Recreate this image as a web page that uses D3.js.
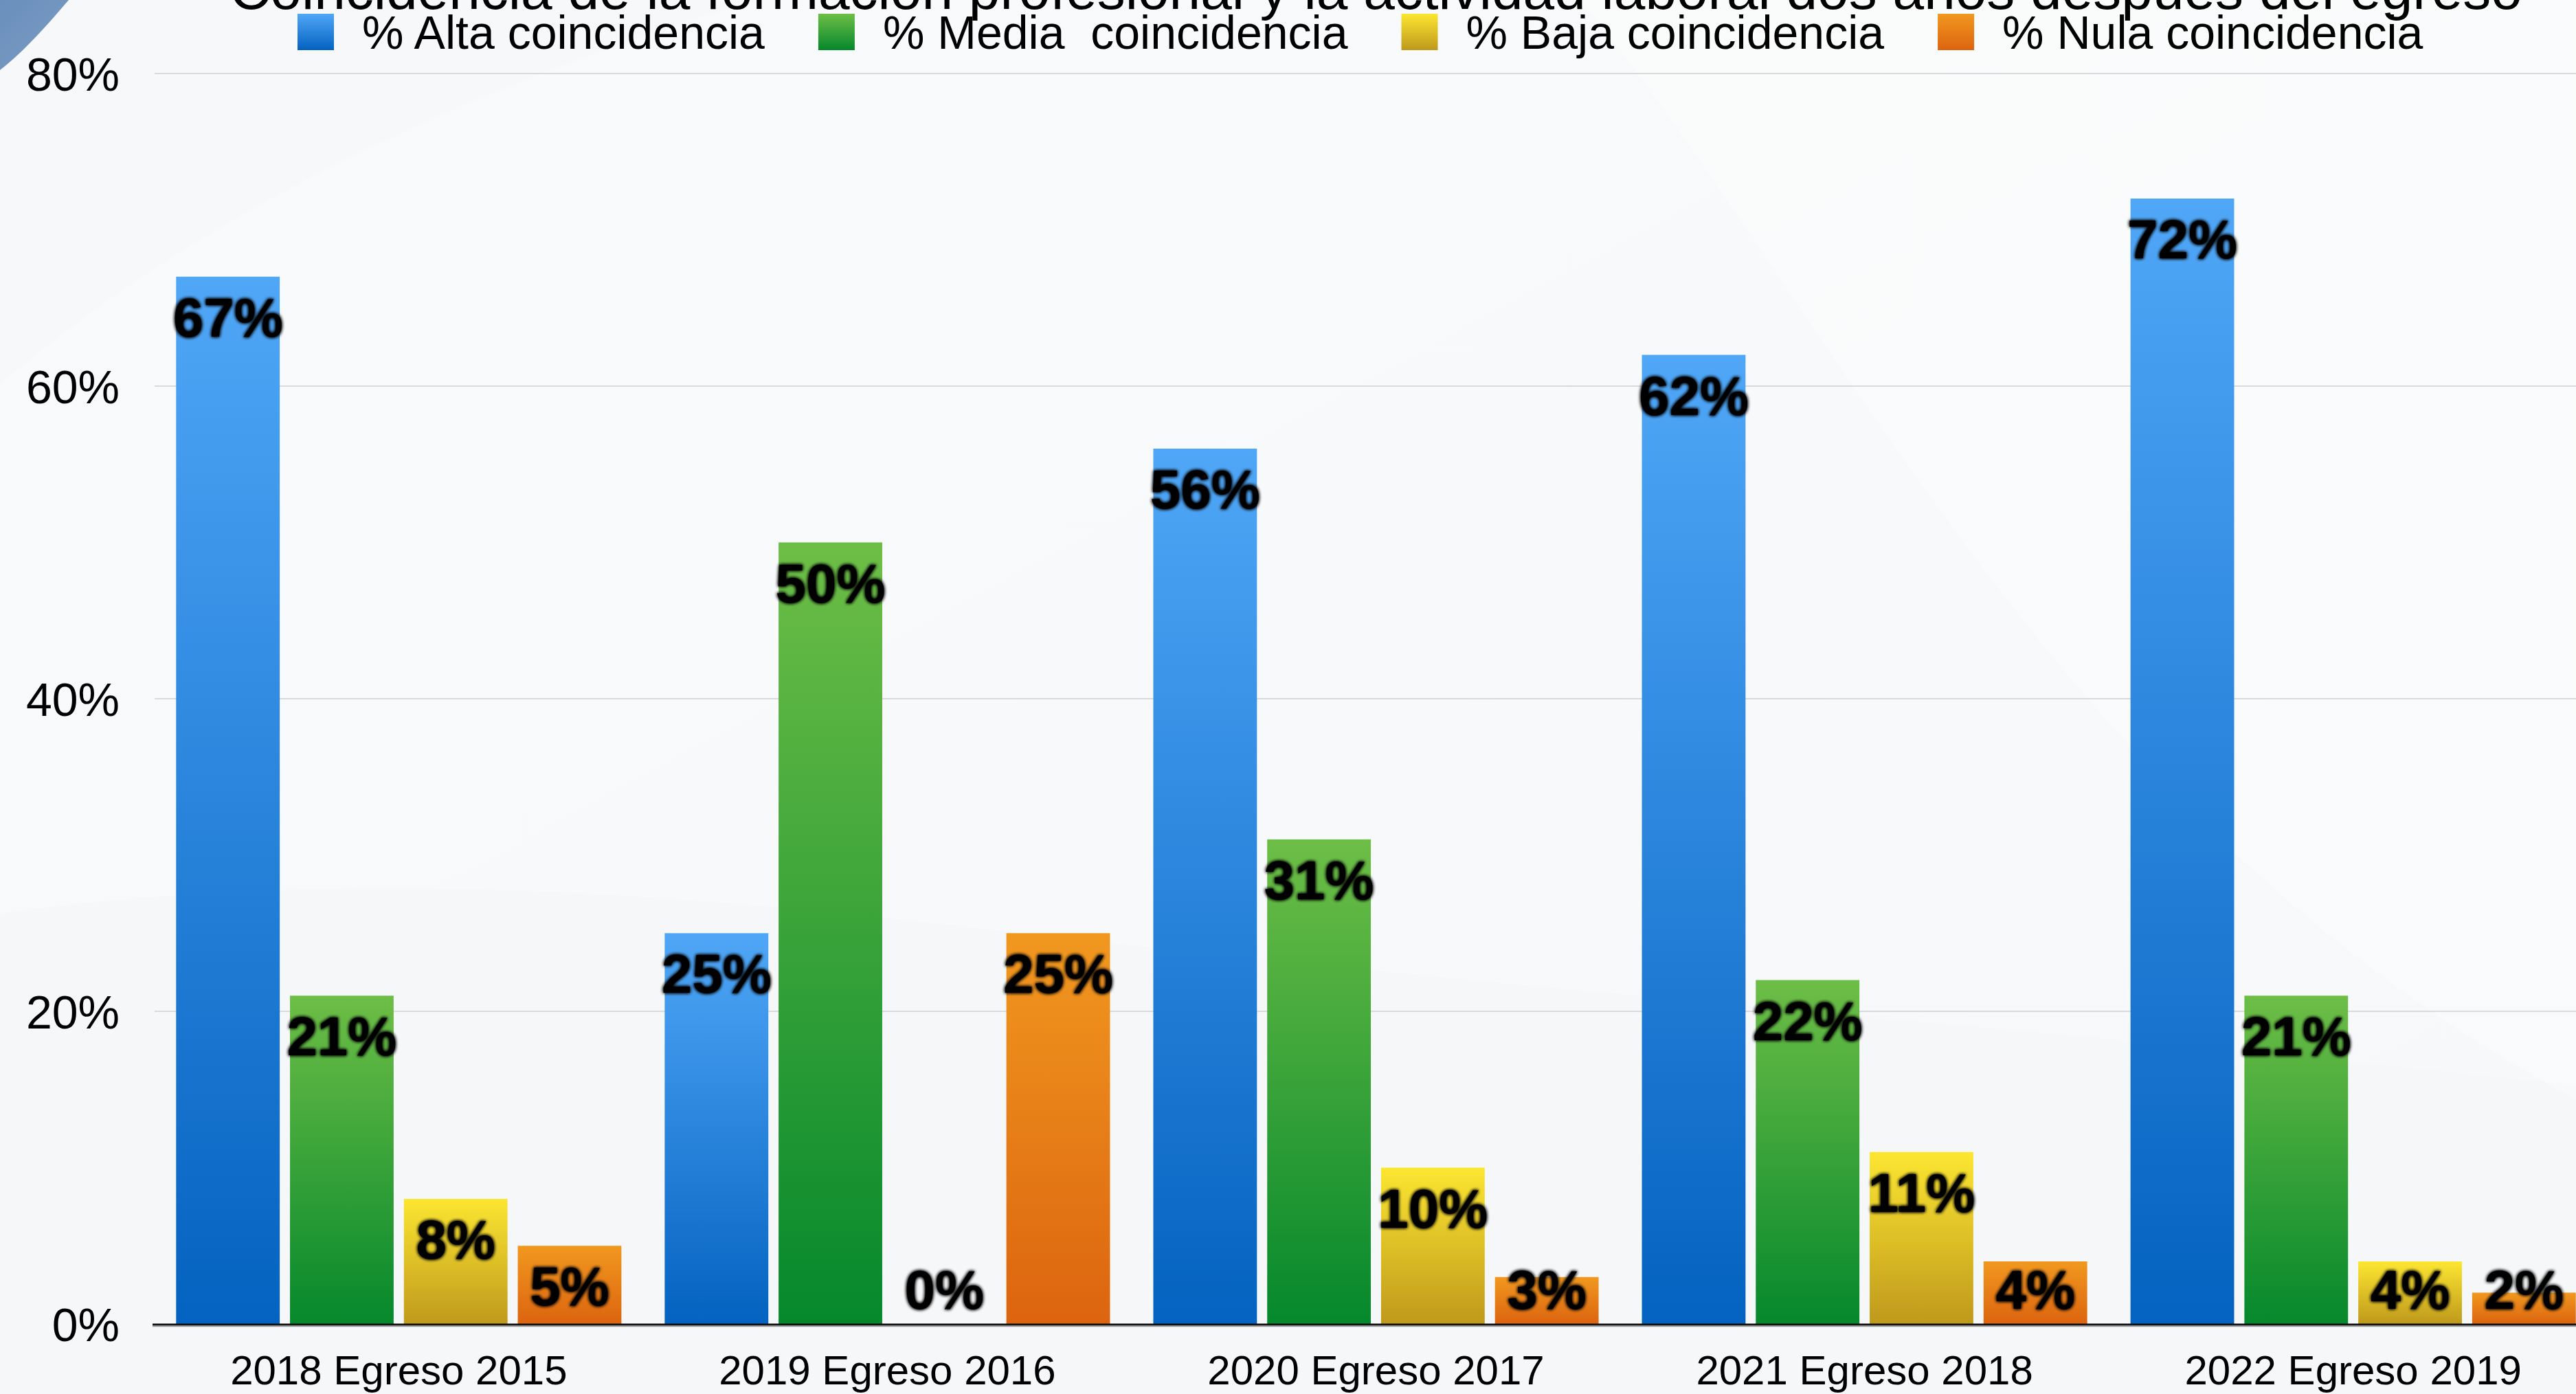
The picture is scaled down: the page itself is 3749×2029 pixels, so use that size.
<!DOCTYPE html>
<html><head><meta charset="utf-8">
<script src="https://cdn.jsdelivr.net/npm/d3@7"></script>
<style>
html,body{margin:0;padding:0;background:#f8f9fa;overflow:hidden}
text{font-family:"Liberation Sans",Arial,Helvetica,sans-serif}
</style></head>
<body>
<svg id="chart" width="3749" height="2029"></svg>
<script>
const title = "Coincidencia de la formación profesional y la actividad laboral dos años después del egreso";
const categories = ["2018 Egreso 2015","2019 Egreso 2016","2020 Egreso 2017","2021 Egreso 2018","2022 Egreso 2019"];
const seriesNames = ["% Alta coincidencia","% Media  coincidencia","% Baja coincidencia","% Nula coincidencia"];
const alta  = [67, 25, 56, 62, 72];
const media = [21, 50, 31, 22, 21];
const baja  = [8, 0, 10, 11, 4];
const nula  = [5, 25, 3, 4, 2];
const yTicks = [0, 20, 40, 60, 80];
const seriesValues = [alta, media, baja, nula];
const colorsTop = ["#50a7f7","#6dbe46","#fce631","#f1981f"];
const colorsBottom = ["#0462c0","#05882c","#bf991c","#dc640f"];

const W = 3749, H = 2029;
const svg = d3.select("#chart");
const defs = svg.append("defs");

// background
const bg = defs.append("linearGradient").attr("id","bg").attr("x1",0).attr("y1",0).attr("x2",1).attr("y2",1);
bg.append("stop").attr("offset",0).attr("stop-color","#f9fafb");
bg.append("stop").attr("offset",1).attr("stop-color","#f7f8fa");
svg.append("rect").attr("width",W).attr("height",H).attr("fill","url(#bg)");
// faint swooshes
svg.append("path").attr("d","M0,1330 C500,1260 1000,1300 1500,1360 C2300,1450 3000,1500 3749,1580 L3749,2029 L0,2029 Z")
  .attr("fill","#f3f5f7").attr("opacity",0.5);
svg.append("path").attr("d","M0,560 C300,300 700,120 1100,0 L0,0 Z").attr("fill","#f5f6f8").attr("opacity",0.6);
svg.append("path").attr("d","M2300,0 C2700,500 3000,1200 3749,1600 L3749,0 Z").attr("fill","#ffffff").attr("opacity",0.3);
// corner
const cg = defs.append("linearGradient").attr("id","corner").attr("x1",0).attr("y1",0).attr("x2",1).attr("y2",1);
cg.append("stop").attr("offset",0).attr("stop-color","#6a8fbc");
cg.append("stop").attr("offset",1).attr("stop-color","#7c9dc5");
svg.append("path").attr("d","M0,0 L100,0 C70,35 35,75 0,102 Z").attr("fill","url(#corner)");

// gradients per series
colorsTop.forEach((c,i)=>{
  const g = defs.append("linearGradient").attr("id","g"+i).attr("x1",0).attr("y1",0).attr("x2",0).attr("y2",1);
  g.append("stop").attr("offset",0).attr("stop-color",c);
  g.append("stop").attr("offset",1).attr("stop-color",colorsBottom[i]);
});
// label shadow
const f = defs.append("filter").attr("id","glow").attr("x","-20%").attr("y","-20%").attr("width","140%").attr("height","140%");
f.append("feGaussianBlur").attr("in","SourceAlpha").attr("stdDeviation",2.5).attr("result","b");
const fm = f.append("feMerge");
fm.append("feMergeNode").attr("in","b");
fm.append("feMergeNode").attr("in","b");
fm.append("feMergeNode").attr("in","SourceGraphic");

const plotLeft = 225, plotRight = 3780, yTop = 107, yBottom = 1927;
const x0 = d3.scaleBand().domain(categories).range([plotLeft, plotRight]).paddingInner(0.0886).paddingOuter(0.044);
const x1 = d3.scaleBand().domain(d3.range(4)).range([0, x0.bandwidth()]).paddingInner(0.09);
const y = d3.scaleLinear().domain([0, 80]).range([yBottom, yTop]);

// grid
svg.append("g").selectAll("line").data(yTicks.filter(t=>t>0)).join("line")
  .attr("x1",plotLeft).attr("x2",W).attr("y1",d=>y(d)).attr("y2",d=>y(d))
  .attr("stroke","#d9dadc").attr("stroke-width",2);

// y axis labels
const yAxis = d3.axisLeft(y).tickValues(yTicks).tickFormat(d=>d+"%").tickSize(0).tickPadding(0);
const ya = svg.append("g").attr("transform","translate(174,0)").call(yAxis);
ya.select(".domain").remove();
ya.selectAll("text").attr("font-size",68).attr("fill","#000").attr("font-family","Liberation Sans, Arial, sans-serif").attr("dy","0.36em");

// bars
const groups = svg.append("g").selectAll("g").data(categories).join("g")
  .attr("transform",d=>`translate(${x0(d)},0)`);
groups.selectAll("rect").data((d,ci)=>seriesValues.map((s,si)=>({si, v:s[ci]}))).join("rect")
  .attr("x",d=>x1(d.si)).attr("width",x1.bandwidth())
  .attr("y",d=>y(d.v)).attr("height",d=>yBottom-y(d.v))
  .attr("fill",d=>`url(#g${d.si})`);

// x axis line
svg.append("line").attr("x1",222).attr("x2",W).attr("y1",yBottom+1).attr("y2",yBottom+1)
  .attr("stroke","#111").attr("stroke-width",3);
svg.append("line").attr("x1",222).attr("x2",W).attr("y1",yBottom+3.5).attr("y2",yBottom+3.5)
  .attr("stroke","#9a9a9a").attr("stroke-width",1.5);

// x axis labels
const xAxis = d3.axisBottom(x0).tickSize(0).tickPadding(0);
const xa = svg.append("g").attr("transform","translate(0,2015)").call(xAxis);
xa.select(".domain").remove();
xa.selectAll("text").attr("font-size",60).attr("fill","#000").attr("dy",0).attr("y",0).attr("font-family","Liberation Sans, Arial, sans-serif");

// value labels
groups.selectAll("text.val").data((d,ci)=>seriesValues.map((s,si)=>({si, v:s[ci]}))).join("text")
  .attr("class","val")
  .attr("x",d=>x1(d.si)+x1.bandwidth()/2)
  .attr("y",d=>Math.min(y(d.v)+87, yBottom-22))
  .attr("text-anchor","middle").attr("font-size",80).attr("font-weight","bold")
  .attr("fill","#000").attr("filter","url(#glow)")
  .text(d=>d.v+"%");

// title
svg.append("text").attr("x",(plotLeft+plotRight)/2).attr("y",13).attr("text-anchor","middle")
  .attr("font-size",82).attr("fill","#000").text(title);

// legend
const lg = svg.append("g");
let lx = 433;
seriesNames.forEach((name,i)=>{
  lg.append("rect").attr("x",lx).attr("y",20).attr("width",53).attr("height",53).attr("fill",`url(#g${i})`);
  const t = lg.append("text").attr("x",lx+94).attr("y",71).attr("font-size",68).attr("fill","#000")
    .style("white-space","pre").text(name);
  lx += 94 + t.node().getComputedTextLength() + 78;
});
</script>
</body></html>
